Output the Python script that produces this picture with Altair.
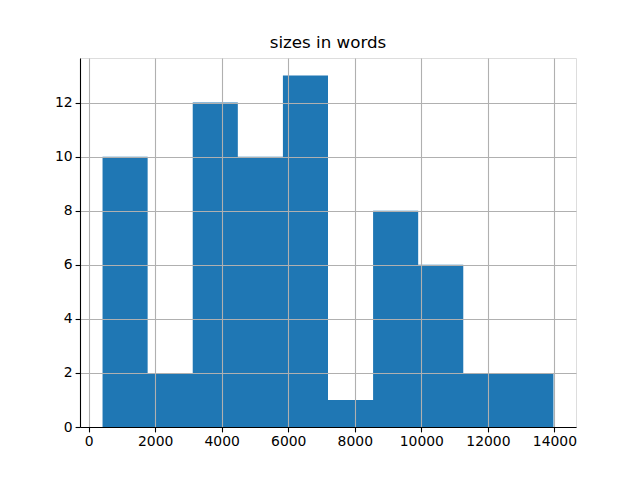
import altair as alt
import pandas as pd

bin_edges = [420, 1775, 3130, 4485, 5840, 7195, 8550, 9905, 11260, 12615, 13970]
counts = [10, 2, 12, 10, 13, 1, 8, 6, 2, 2]
x_ticks = [0, 2000, 4000, 6000, 8000, 10000, 12000, 14000]
y_ticks = [0, 2, 4, 6, 8, 10, 12]

# step outline of the histogram: each edge carries the count of the bin to its right
df = pd.DataFrame({
    "edge": bin_edges,
    "count": counts + [counts[-1]],
})

font = "DejaVu Sans"

chart = alt.Chart(df).mark_area(color="#1f77b4", interpolate="step-after", opacity=1).encode(
    x=alt.X("edge:Q", scale=alt.Scale(domain=[-257.5, 14647.5], nice=False, zero=False),
            axis=alt.Axis(values=x_ticks, title=None, grid=True, zindex=1, format="d",
                          labelFont=font, labelFontSize=13.9, labelColor="black",
                          tickColor="black", tickSize=4.9, tickWidth=1.1, labelPadding=3,
                          domainColor="black", domainWidth=1.1,
                          gridColor="#b0b0b0", gridWidth=1.1)),
    y=alt.Y("count:Q", scale=alt.Scale(domain=[0, 13.65], nice=False),
            axis=alt.Axis(values=y_ticks, title=None, grid=True, zindex=1, format="d",
                          labelFont=font, labelFontSize=13.9, labelColor="black",
                          tickColor="black", tickSize=4.9, tickWidth=1.1, labelPadding=3,
                          domainColor="black", domainWidth=1.1,
                          gridColor="#b0b0b0", gridWidth=1.1)),
).properties(
    width=496,
    height=369,
    title=alt.TitleParams("sizes in words", font=font, fontSize=16.7, fontWeight="normal",
                          color="black", anchor="middle", offset=6),
    autosize=alt.AutoSizeParams(type="none"),
    padding={"left": 72, "top": 50, "right": 56, "bottom": 45},
).configure_view(stroke="black", strokeWidth=1.1).configure(background="white")

chart.save("out.html", embed_options={"renderer": "svg", "actions": False})
